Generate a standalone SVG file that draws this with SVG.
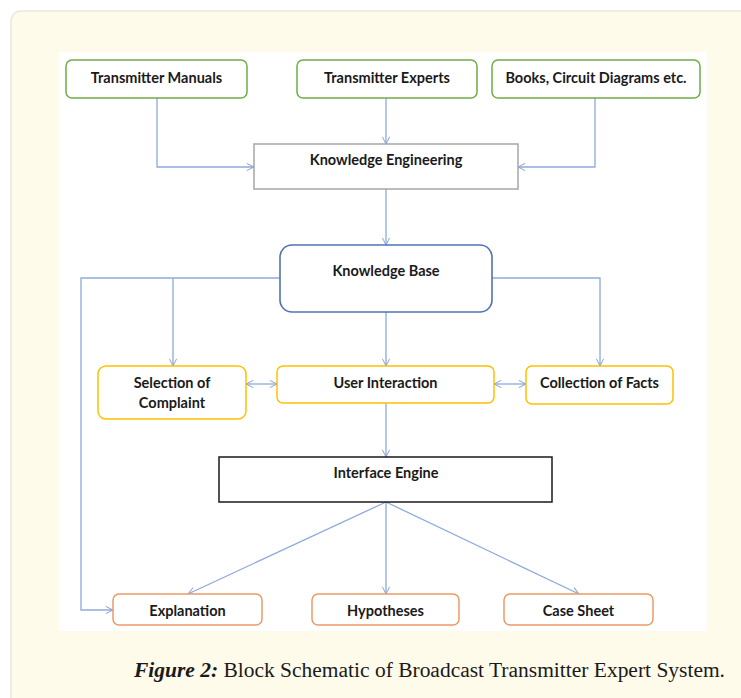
<svg xmlns="http://www.w3.org/2000/svg" width="741" height="698" viewBox="0 0 741 698">
<defs>
<marker id="ah" viewBox="0 0 10 10" refX="10" refY="5" markerWidth="8" markerHeight="8" markerUnits="userSpaceOnUse" orient="auto-start-reverse">
<path d="M1,0.5 L10,5 L1,9.5" fill="none" stroke="#7f9fd6" stroke-width="1.2"/>
</marker>
<style>
.lbl{font-family:Lato,"Liberation Sans",sans-serif;font-weight:bold;font-size:14.5px;fill:#1a1a1a;text-anchor:middle}
.con{fill:none;stroke:#8eaadb;stroke-width:1.3}
.arr{marker-end:url(#ah)}
.bi{marker-start:url(#ah);marker-end:url(#ah)}
.green{fill:#fff;stroke:#70ad47;stroke-width:1.5}
.yellow{fill:#fff;stroke:#ffc000;stroke-width:1.5}
.orange{fill:#fff;stroke:#eb9a66;stroke-width:1.5}
</style>
</defs>
<rect x="11" y="11" width="745" height="700" rx="10" fill="#fefbea" stroke="#ece8da" stroke-width="1.5"/>
<rect x="59" y="52" width="648" height="579" fill="#ffffff"/>

<g id="connectors">
<path class="con arr" d="M157,98 V167 H254"/>
<path class="con arr" d="M386,98 V144"/>
<path class="con arr" d="M595,98 V167 H518"/>
<path class="con arr" d="M386,189 V245"/>
<path class="con arr" d="M280,278 H81 V610 H113"/>
<path class="con arr" d="M173,278 V366"/>
<path class="con arr" d="M492,278 H600 V366"/>
<path class="con arr" d="M386,312 V366"/>
<path class="con bi" d="M246,384 H277"/>
<path class="con bi" d="M494,384 H526"/>
<path class="con arr" d="M386,403 V457"/>
<path class="con arr" d="M386,502 L188,594"/>
<path class="con arr" d="M386,502 V594"/>
<path class="con arr" d="M386,502 L579,594"/>
</g>

<g id="transmitter-manuals"><rect class="green" x="66" y="60" width="181" height="38" rx="6"/><text class="lbl" x="156.5" y="83">Transmitter Manuals</text></g>
<g id="transmitter-experts"><rect class="green" x="297" y="60" width="180" height="38" rx="6"/><text class="lbl" x="387" y="83">Transmitter Experts</text></g>
<g id="books"><rect class="green" x="492" y="60" width="208" height="38" rx="6"/><text class="lbl" x="596" y="83">Books, Circuit Diagrams etc.</text></g>
<g id="knowledge-engineering"><rect x="254" y="144" width="264" height="45" fill="#fff" stroke="#a6a6a6" stroke-width="1.5"/><text class="lbl" x="386" y="165">Knowledge Engineering</text></g>
<g id="knowledge-base"><rect x="280" y="245" width="212" height="67" rx="12" fill="#fff" stroke="#4f74b3" stroke-width="1.6"/><text class="lbl" x="386" y="276">Knowledge Base</text></g>
<g id="selection-of-complaint"><rect class="yellow" x="98" y="366" width="148" height="53" rx="8"/><text class="lbl" x="172" y="388">Selection of</text><text class="lbl" x="172" y="408">Complaint</text></g>
<g id="user-interaction"><rect class="yellow" x="277" y="366" width="217" height="37" rx="6"/><text class="lbl" x="385.5" y="388">User Interaction</text></g>
<g id="collection-of-facts"><rect class="yellow" x="526" y="366" width="147" height="38" rx="6"/><text class="lbl" x="599.5" y="388">Collection of Facts</text></g>
<g id="interface-engine"><rect x="219" y="457" width="333" height="45" fill="#fff" stroke="#1a1a1a" stroke-width="1.5"/><text class="lbl" x="386" y="478">Interface Engine</text></g>
<g id="explanation"><rect class="orange" x="113" y="594" width="149" height="31" rx="6"/><text class="lbl" x="187.5" y="616">Explanation</text></g>
<g id="hypotheses"><rect class="orange" x="312" y="594" width="147" height="31" rx="6"/><text class="lbl" x="385.5" y="616">Hypotheses</text></g>
<g id="case-sheet"><rect class="orange" x="504" y="594" width="149" height="31" rx="6"/><text class="lbl" x="578.5" y="616">Case Sheet</text></g>

<text x="134" y="677" font-family="'Liberation Serif',serif" font-size="20" fill="#1a1a1a" textLength="591" lengthAdjust="spacingAndGlyphs"><tspan font-weight="bold" font-style="italic">Figure 2:</tspan> Block Schematic of Broadcast Transmitter Expert System.</text>
</svg>
